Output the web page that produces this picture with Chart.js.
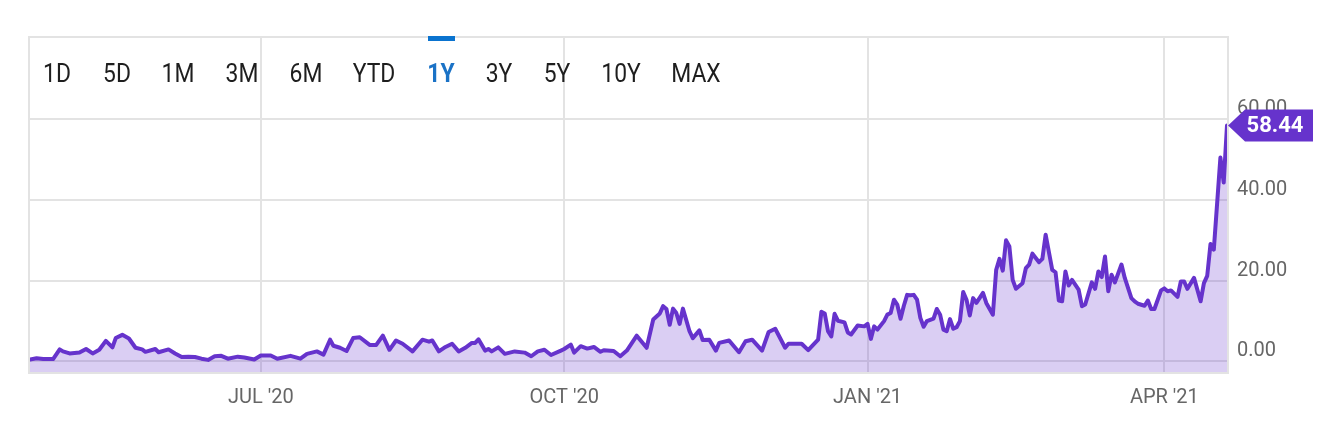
<!DOCTYPE html>
<html>
<head>
<meta charset="utf-8">
<script src="https://cdn.jsdelivr.net/npm/chart.js"></script>
<style>
  html, body { margin: 0; padding: 0; background: #fff; }
  #wrap { position: relative; width: 1330px; height: 424px; }
  #grafico { position: absolute; left: 0; top: 0; }
  #rangos span {
    position: absolute; top: 73px;
    font: 26px Roboto, sans-serif; color: #1e1e1e;
    transform: translate(-50%, -50%) scaleX(0.88);
    white-space: nowrap;
  }
  #rangos span.activo { color: #1a72c6; font-weight: bold; }
  #marca { position: absolute; left: 428px; top: 36px; width: 27px; height: 5px; background: #0a73cf; }
</style>
</head>
<body>
<div id="wrap">
  <canvas id="grafico" width="1330" height="424"></canvas>
  <div id="rangos">
    <span style="left:57px">1D</span>
    <span style="left:117px">5D</span>
    <span style="left:178px">1M</span>
    <span style="left:242px">3M</span>
    <span style="left:306px">6M</span>
    <span style="left:374px">YTD</span>
    <span class="activo" style="left:441px">1Y</span>
    <span style="left:499px">3Y</span>
    <span style="left:557px">5Y</span>
    <span style="left:621px">10Y</span>
    <span style="left:696px">MAX</span>
  </div>
  <div id="marca"></div>
</div>
<script>
// dias contados desde 2020-04-21
const inicioSerie = Date.UTC(2020, 3, 21);

const dias = [1, 3, 5, 8, 10, 11, 13, 16, 18, 20, 22, 24, 26, 27, 29, 31, 33, 35, 36, 39, 40, 43, 45, 47, 49, 51, 53, 55, 57, 59, 61,
    64, 66, 69, 71, 74, 76, 80, 83, 85, 88, 90, 92, 93, 95, 97, 99, 101, 104, 106, 108, 110, 112, 114, 117, 120, 122,
    123, 125, 127, 129, 131, 133, 135, 136, 137, 139, 140, 141, 143, 145, 148, 151, 153, 155, 157, 159, 162, 163, 165, 166, 168, 170, 172, 174, 175, 178, 180, 182,
    185, 188, 190, 192, 193, 194, 195, 196, 197, 198, 199, 201, 202, 204, 205, 207, 209, 210, 213, 216, 218, 220, 223, 225, 227, 230, 231, 235, 237, 240, 241, 242, 243, 244,
    245, 246, 248, 249, 250, 252, 254, 255, 256, 257, 258, 260, 261, 262, 263, 264, 265, 266, 267, 268, 269, 270, 271, 272, 273, 275, 276, 277, 278, 279, 280, 281, 282, 283, 284, 285, 286, 287, 288, 290, 291, 293, 294, 295, 296, 297, 298, 299, 300, 302, 303, 304,
    305, 307, 308, 309, 311, 312, 313, 314, 315, 316, 317, 319, 320, 321, 323, 324, 325, 326, 327, 328, 329, 330, 332, 333, 335, 336, 337, 339, 340, 341, 342, 344, 345, 346, 347, 349, 350, 351, 352, 354, 356, 357, 358, 359, 360, 362, 363, 364];

const valores = [0.5, 0.8, 0.6, 0.6, 3.0, 2.5, 2.0, 2.2, 3.1, 2.0, 2.9, 5.1, 3.5, 5.8, 6.6, 5.7, 3.4, 3.0, 2.4, 3.1, 2.3, 3.0, 2.0, 1.1, 1.2, 1.1, 0.7, 0.4, 1.3, 1.4, 0.7,
    1.2, 1.0, 0.5, 1.5, 1.5, 0.7, 1.4, 0.7, 1.9, 2.5, 1.7, 5.4, 3.9, 3.4, 2.6, 5.8, 6.0, 4.1, 4.1, 6.4, 2.9, 5.2, 4.4, 2.5, 5.4, 4.9,
    5.2, 2.5, 3.6, 4.4, 2.5, 3.4, 4.6, 4.6, 5.5, 2.7, 3.1, 2.5, 3.5, 1.9, 2.5, 2.2, 1.3, 2.5, 2.9, 1.6, 2.7, 3.1, 4.2, 2.2, 3.8, 3.2, 3.6, 2.4, 2.8, 2.6, 1.3, 2.7,
    6.4, 3.4, 10.4, 11.9, 13.7, 13.0, 9.1, 13.1, 12.0, 9.3, 13.1, 7.5, 5.8, 7.7, 5.3, 5.4, 2.7, 4.6, 5.2, 2.3, 5.0, 5.4, 2.7, 7.3, 8.1, 3.4, 4.4, 4.4, 2.8, 5.4, 12.3, 11.9, 7.5, 6.2,
    11.8, 10.1, 9.7, 7.2, 6.7, 8.9, 8.7, 9.3, 5.6, 8.7, 7.9, 10.0, 11.6, 12.0, 15.3, 14.1, 10.6, 13.8, 16.5, 16.4, 16.5, 15.3, 10.8, 8.6, 10.0, 10.6, 13.0, 11.6, 7.9, 7.5, 10.5, 8.1, 8.5, 10.0, 17.2, 15.3, 11.4, 15.7, 14.5, 17.0, 14.5, 11.6, 22.7, 25.4, 22.5, 30.0, 28.5, 20.2, 18.0, 19.4, 23.1, 24.0,
    26.7, 24.6, 25.4, 31.4, 22.7, 22.1, 15.1, 14.9, 22.3, 18.8, 20.2, 17.8, 13.7, 14.1, 19.6, 18.0, 22.3, 20.9, 26.0, 17.4, 21.5, 19.6, 24.0, 20.7, 15.7, 14.9, 14.3, 13.8, 15.1, 13.0, 13.0, 17.6, 18.1, 17.4, 17.6, 16.0, 19.8, 19.8, 18.0, 20.7, 14.9, 19.4, 21.2, 29.1, 27.7, 50.5, 44.3, 58.44];

const fechasTicks = ['2020-07-01', '2020-10-01', '2021-01-01', '2021-04-01'];
const etiquetasTicks = ["JUL '20", "OCT '20", "JAN '21", "APR '21"];
const ticksY = [0, 20, 40, 60];

const diasTicks = fechasTicks.map(f => (Date.parse(f) - inicioSerie) / 86400000);

const marco = {
    id: 'marco',
    beforeDatasetsDraw(chart) {
        const { ctx, chartArea: a } = chart;
        ctx.save();
        ctx.strokeStyle = '#e3e3e3';
        ctx.lineWidth = 2;
        ctx.strokeRect(a.left - 1, a.top - 1, a.right - a.left + 2, a.bottom - a.top + 2);
        ctx.restore();
    }
};

const etiqueta = {
    id: 'etiqueta',
    afterDraw(chart) {
        const meta = chart.getDatasetMeta(0);
        const p = meta.data[meta.data.length - 1];
        const ctx = chart.ctx;
        const x = p.x + 1, y = p.y;
        ctx.save();
        ctx.fillStyle = '#6633cc';
        ctx.beginPath();
        ctx.moveTo(x, y);
        ctx.lineTo(x + 17, y - 16);
        ctx.lineTo(x + 85, y - 16);
        ctx.lineTo(x + 85, y + 16);
        ctx.lineTo(x + 17, y + 16);
        ctx.closePath();
        ctx.fill();
        ctx.fillStyle = '#fff';
        ctx.font = 'bold 22px Roboto';
        ctx.textAlign = 'center';
        ctx.textBaseline = 'middle';
        ctx.fillText(valores[valores.length - 1].toFixed(2), x + 47, y + 1);
        ctx.restore();
    }
};

const ctx = document.getElementById('grafico');

let chart = new Chart(ctx, {
    type: 'line',
    data: {
        datasets: [{
            data: dias.map((d, i) => ({ x: d, y: valores[i] })),
            borderColor: '#6633cc',
            backgroundColor: 'rgba(102, 51, 204, 0.24)',
            fill: 'start',
            borderWidth: 4,
            borderJoinStyle: 'round',
            borderCapStyle: 'round',
            pointRadius: 0,
            tension: 0
        }]
    },
    options: {
        responsive: false,
        animation: false,
        layout: { padding: { left: 30, top: 38, right: 0, bottom: 0 } },
        plugins: {
            legend: { display: false },
            tooltip: { enabled: false }
        },
        scales: {
            x: {
                type: 'linear',
                min: 1,
                max: 364,
                afterBuildTicks: s => { s.ticks = diasTicks.map(v => ({ value: v })); },
                afterFit: s => { s.height = 52; },
                grid: { color: '#e3e3e3', lineWidth: 2, drawTicks: false },
                border: { display: false },
                ticks: {
                    autoSkip: false,
                    maxRotation: 0,
                    padding: 14,
                    color: '#666',
                    font: { family: 'Roboto', size: 20 },
                    callback: v => etiquetasTicks[diasTicks.indexOf(v)]
                }
            },
            y: {
                position: 'right',
                min: -2.6,
                max: 80.1,
                afterBuildTicks: s => { s.ticks = ticksY.map(v => ({ value: v })); },
                afterFit: s => { s.width = 103; },
                grid: { color: '#e3e3e3', lineWidth: 2, drawTicks: false },
                border: { display: false },
                ticks: {
                    padding: 10,
                    labelOffset: -10,
                    color: '#666',
                    font: { family: 'Roboto', size: 20 },
                    callback: v => v.toFixed(2)
                }
            }
        }
    },
    plugins: [marco, etiqueta]
});
</script>
</body>
</html>
